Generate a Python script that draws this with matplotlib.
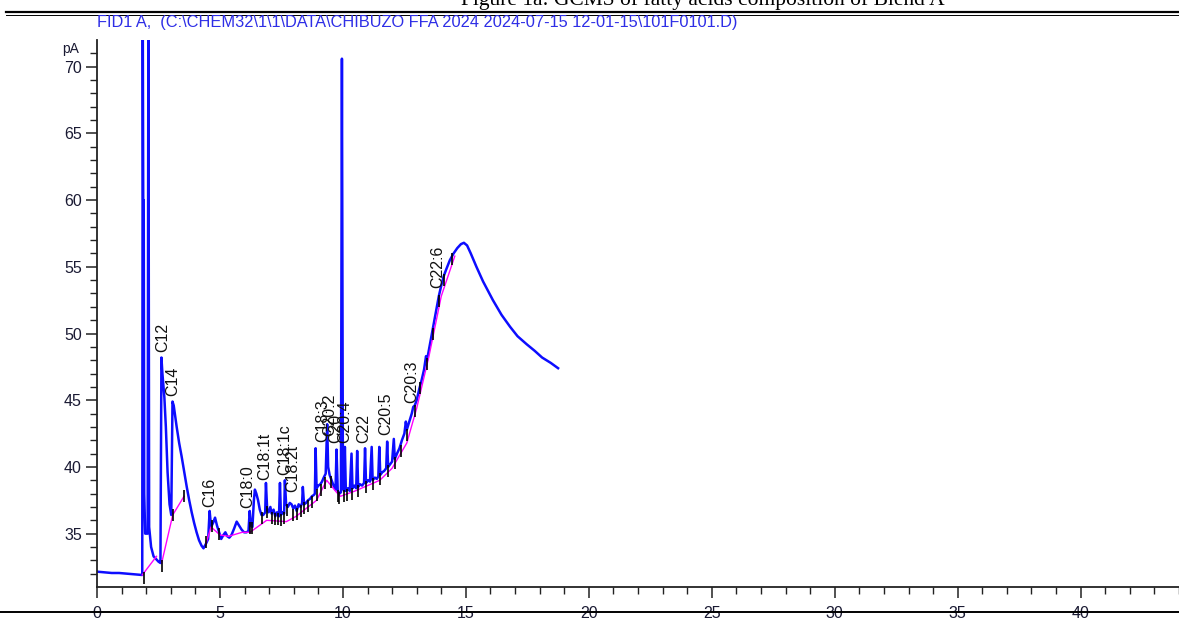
import numpy as np
import matplotlib
matplotlib.use("Agg")
import matplotlib.pyplot as plt
from matplotlib.lines import Line2D
import matplotlib.transforms as mtransforms

# ---------------- data ----------------
time_min = [0.00, 0.30, 0.60, 0.90, 1.20, 1.50, 1.80, 1.84, 1.86, 1.88, 1.90, 1.92, 1.96, 2.06, 2.09, 2.12,
            2.20, 2.30, 2.40, 2.50, 2.58, 2.62, 2.66, 2.74, 2.80, 2.87, 2.95, 3.02, 3.07, 3.12, 3.24, 3.34,
            3.44, 3.55, 3.65, 3.75, 3.85, 3.95, 4.05, 4.15, 4.25, 4.33, 4.42, 4.52, 4.58, 4.64, 4.72, 4.80,
            4.88, 4.95, 5.05, 5.14, 5.22, 5.30, 5.38, 5.47, 5.58, 5.68, 5.78, 5.88, 5.98, 6.08, 6.16, 6.21,
            6.26, 6.32, 6.38, 6.42, 6.48, 6.55, 6.62, 6.69, 6.76, 6.84, 6.87, 6.92, 6.98, 7.05, 7.10, 7.18,
            7.25, 7.32, 7.40, 7.44, 7.48, 7.55, 7.61, 7.64, 7.69, 7.76, 7.84, 7.91, 7.98, 8.05, 8.12, 8.20,
            8.28, 8.34, 8.37, 8.42, 8.50, 8.58, 8.66, 8.74, 8.82, 8.86, 8.89, 8.93, 9.00, 9.08, 9.15, 9.22,
            9.30, 9.36, 9.40, 9.46, 9.54, 9.62, 9.70, 9.74, 9.79, 9.86, 9.92, 9.96, 10.00, 10.05, 10.08, 10.12,
            10.20, 10.28, 10.35, 10.39, 10.47, 10.54, 10.58, 10.62, 10.70, 10.78, 10.86, 10.90, 10.94, 11.02,
            11.10, 11.17, 11.21, 11.30, 11.38, 11.44, 11.48, 11.52, 11.60, 11.68, 11.76, 11.80, 11.84, 11.92,
            12.00, 12.07, 12.11, 12.20, 12.30, 12.40, 12.50, 12.56, 12.60, 12.70, 12.80, 12.86, 12.92, 13.00,
            13.10, 13.20, 13.30, 13.38, 13.42, 13.50, 13.60, 13.70, 13.80, 13.90, 14.00, 14.10, 14.20, 14.35,
            14.50, 14.65, 14.80, 14.92, 15.05, 15.20, 15.43, 15.70, 16.10, 16.45, 16.80, 17.10, 17.47, 17.80,
            18.10, 18.45, 18.75]
signal_pA = [32.15, 32.10, 32.05, 32.05, 32.00, 31.95, 31.90, 31.90, 75.0, 60.0, 60.0, 38.0, 35.0, 35.0, 75.0, 35.5,
             34.0, 33.3, 33.1, 32.9, 32.8, 48.2, 47.0, 45.2, 43.0, 39.6, 37.2, 36.4, 44.9, 44.6, 43.0, 41.8,
             40.8, 39.6, 38.5, 37.5, 36.6, 35.8, 35.1, 34.5, 34.1, 33.9, 34.2, 34.6, 36.7, 35.5, 35.8, 36.2,
             35.6, 35.2, 34.6, 34.9, 35.1, 34.8, 34.7, 34.9, 35.4, 35.9, 35.6, 35.3, 35.1, 35.1, 35.2, 36.7,
             35.6, 35.5, 37.5, 38.3, 38.0, 37.5, 36.8, 36.4, 36.4, 36.6, 38.8, 36.8, 36.6, 37.0, 36.5, 36.8,
             36.3, 36.6, 36.3, 38.8, 36.4, 36.6, 36.5, 39.0, 37.2, 37.0, 37.3, 37.2, 36.9, 37.1, 36.7, 37.2,
             37.0, 37.3, 38.5, 37.2, 37.3, 37.5, 37.6, 37.8, 37.9, 38.0, 41.4, 38.4, 38.6, 38.7, 38.9, 39.2,
             39.5, 43.2, 40.0, 39.4, 39.0, 38.6, 38.3, 41.3, 38.2, 38.0, 38.1, 70.6, 38.4, 38.2, 41.5, 38.2,
             38.4, 38.2, 41.0, 38.4, 38.6, 38.4, 41.2, 38.5, 38.7, 38.6, 38.8, 41.4, 38.8, 39.0,
             38.9, 41.5, 39.0, 39.2, 39.1, 39.3, 41.5, 39.4, 39.6, 39.7, 39.9, 41.9, 40.0, 40.2,
             40.4, 42.1, 40.6, 41.0, 41.4, 42.0, 42.5, 43.4, 42.8, 43.4, 44.0, 44.5, 44.6, 45.0,
             45.8, 46.5, 47.3, 48.3, 48.0, 48.8, 49.8, 50.8, 51.8, 52.8, 53.6, 54.3, 54.8, 55.5,
             56.0, 56.4, 56.7, 56.8, 56.6, 56.0, 55.0, 53.9, 52.5, 51.4, 50.5, 49.8, 49.2, 48.7,
             48.2, 47.8, 47.4]

# integration baseline (separate segments)
baseline_segments = [
    ([1.84, 2.42], [31.9, 33.3]),
    ([2.63, 3.08, 3.54], [32.8, 36.4, 37.8]),
    ([4.42, 4.64, 5.00, 5.35, 5.90, 6.22], [34.2, 35.5, 34.9, 34.8, 35.1, 35.1]),
    ([6.22, 6.90, 7.70, 8.10, 8.93, 9.34, 9.74, 9.90, 10.50, 11.50, 12.00, 12.60, 13.00, 13.50, 14.00, 14.55],
     [35.1, 36.0, 35.9, 36.3, 37.5, 39.0, 38.1, 37.8, 38.2, 39.0, 39.9, 41.8, 44.4, 48.3, 52.8, 55.8]),
]

# peak start / end markers (time, pA)
marker_time = [1.92, 2.63, 3.08, 3.54, 4.42, 4.66, 4.95, 6.22, 6.30, 6.69, 6.92, 7.10, 7.25, 7.35, 7.50,
               7.60, 7.73, 7.98, 8.12, 8.30, 8.42, 8.60, 8.75, 8.93, 9.10, 9.28, 9.50, 9.79, 9.86, 10.05,
               10.15, 10.39, 10.62, 10.94, 11.21, 11.52, 11.84, 12.11, 12.35, 12.60, 12.92, 13.15, 13.42,
               13.65, 13.90, 14.10, 14.45]
marker_pA = [31.7, 32.6, 36.4, 37.8, 34.4, 35.6, 35.0, 35.4, 35.4, 36.2, 36.6, 36.2, 36.1, 36.1, 36.0,
             36.2, 36.8, 36.4, 36.5, 36.7, 36.9, 37.1, 37.4, 37.9, 38.3, 38.8, 38.9, 37.8, 37.7, 37.8,
             37.9, 38.0, 38.2, 38.5, 38.7, 39.1, 39.7, 40.3, 41.2, 42.4, 44.2, 45.9, 47.7,
             50.0, 52.4, 54.0, 55.6]

# peak labels: name, time, bottom of text (pA)
peak_names = ["C12", "C14", "C16", "C18:0", "C18:1t", "C18:1c", "C18:2t", "C18:3", "C20:2",
              "C20", "C20:4", "C22", "C20:5", "C20:3", "C22:6"]
peak_label_time = [2.66, 3.09, 4.60, 6.12, 6.83, 7.65, 7.97, 9.18, 9.45, 9.72, 10.06, 10.85, 11.75, 12.80, 13.84]
peak_label_pA = [48.6, 45.3, 37.0, 36.9, 39.0, 39.4, 38.1, 41.9, 42.3, 41.8, 41.8, 41.8, 42.4, 44.8, 53.4]

x_major = [0, 5, 10, 15, 20, 25, 30, 35, 40]
y_major = [35, 40, 45, 50, 55, 60, 65, 70]

header_text = "FID1 A,  (C:\\CHEM32\\1\\1\\DATA\\CHIBUZO FFA 2024 2024-07-15 12-01-15\\101F0101.D)"
figure_title = "Figure 1a: GCMS of fatty acids composition of Blend A"

# ---------------- plot ----------------
plt.rcParams['font.family'] = ['Liberation Sans', 'DejaVu Sans']
W, H = 1179, 618
fig = plt.figure(figsize=(W / 100, H / 100), dpi=100)

left = 97 / W
bottom = 1 - 587 / H
top = 1 - 40 / H
ax = fig.add_axes([left, bottom, 1 - left, top - bottom])
ax.set_xlim(0, (W - 97) / 24.6)
ax.set_ylim(31.0, 72.0)

ax.plot(time_min, signal_pA, color='#0000ff', lw=1.8, solid_joinstyle='round', alpha=0.95)
for xs, ys in baseline_segments:
    ax.plot(xs, ys, color='#ff00ff', lw=1.0)
ax.vlines(marker_time, np.array(marker_pA) - 0.45, np.array(marker_pA) + 0.45, color='black', lw=1.2)

for name, t, yb in zip(peak_names, peak_label_time, peak_label_pA):
    ax.text(t, yb, name, rotation=90, ha='center', va='bottom', fontsize=11.5, color='#111111')

for s in ['top', 'right']:
    ax.spines[s].set_visible(False)
for s in ['left', 'bottom']:
    ax.spines[s].set_linewidth(1.3)
    ax.spines[s].set_color('#222222')

ax.set_xticks(x_major)
ax.set_xticks(np.arange(0, 45, 1), minor=True)
ax.set_yticks(y_major)
ax.set_yticks(np.arange(32, 72, 1), minor=True)
ax.tick_params(axis='both', which='major', length=8, width=1.1, color='#222222', labelsize=11.5,
               labelcolor='#1a1a33')
ax.tick_params(axis='both', which='minor', length=5, width=1.0, color='#222222')
ax.tick_params(axis='x', pad=6)
ax.tick_params(axis='y', pad=3)

trans = mtransforms.blended_transform_factory(ax.transAxes, ax.transData)
ax.text(-0.017, 71.3, "pA", transform=trans, ha='right', va='center', fontsize=10, color='#1a1a33')

# header
fig.text(97 / W, 1 - 27.5 / H, header_text, color='#2e2ee6', fontsize=11.8, ha='left', va='baseline')
# document title (cut off at top)
fig.text(703 / W, 1 - 5 / H, figure_title, family='Liberation Serif', fontsize=15.5, ha='center',
         va='baseline', color='black')
# document rules
fig.add_artist(Line2D([6 / W, 1.0], [1 - 12 / H, 1 - 12 / H], color='black', lw=1.6))
fig.add_artist(Line2D([6 / W, 1.0], [1 - 14.5 / H, 1 - 14.5 / H], color='black', lw=0.7))
fig.add_artist(Line2D([0.0, 1.0], [1 - 612 / H, 1 - 612 / H], color='black', lw=1.4, zorder=10))

fig.savefig("out.png", dpi=100)
